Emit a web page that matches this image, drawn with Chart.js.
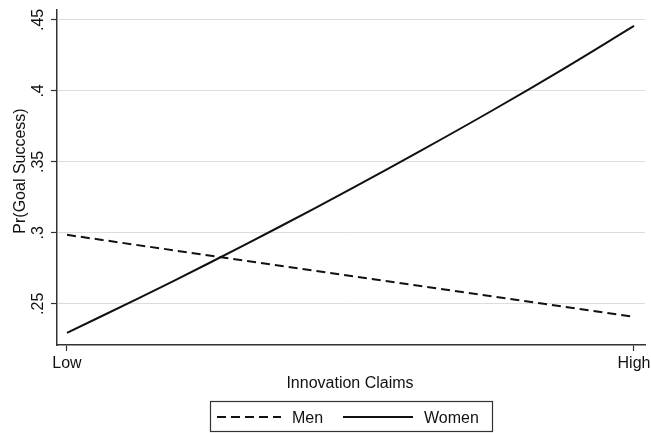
<!DOCTYPE html>
<html>
<head>
<meta charset="utf-8">
<script src="https://cdn.jsdelivr.net/npm/chart.js@4.4.1/dist/chart.umd.min.js"></script>
<style>
  html, body { margin: 0; padding: 0; background: #fff; }
  canvas { display: block; }
</style>
</head>
<body>
<canvas id="chart" width="651" height="433"></canvas>
<script>
// values
var levels = ['Low', 'High'];
var levelAt = [0, 1];
var yTicks = [0.25, 0.30, 0.35, 0.40, 0.45];
var menAt = [0, 1];
var menPr = [0.2986, 0.2408];
var womenAt = [0, 0.125, 0.25, 0.375, 0.5, 0.625, 0.75, 0.875, 1];
var womenPr = [0.2296, 0.2537, 0.2786, 0.3043, 0.3308, 0.3581, 0.3862, 0.4154, 0.4458];

var FONT = '"Liberation Sans", Arial, Helvetica, sans-serif';
var INK = '#111';

function pts(xs, ys) {
    return xs.map(function(x, i) { return { x: x, y: ys[i] }; });
}

function yLabel(v) {
    return v.toFixed(2).replace(/0$/, '').replace(/^0/, '');
}

// rotated y tick labels, axis titles and the boxed legend
var extras = {
    id: 'extras',
    afterDraw: function(chart) {
        var ctx = chart.ctx;
        var ys = chart.scales.y;
        var area = chart.chartArea;
        ctx.save();
        ctx.fillStyle = INK;
        ctx.font = '16px ' + FONT;

        ys.ticks.forEach(function(t) {
            var py = ys.getPixelForValue(t.value);
            ctx.save();
            ctx.translate(43, py);
            ctx.rotate(-Math.PI / 2);
            ctx.textAlign = 'center';
            ctx.textBaseline = 'alphabetic';
            ctx.fillText(yLabel(t.value), 0, 0);
            ctx.restore();
        });

        ctx.save();
        ctx.translate(25, 171);
        ctx.rotate(-Math.PI / 2);
        ctx.textAlign = 'center';
        ctx.textBaseline = 'alphabetic';
        ctx.fillText('Pr(Goal Success)', 0, 0);
        ctx.restore();

        ctx.textAlign = 'center';
        ctx.textBaseline = 'alphabetic';
        ctx.fillText('Innovation Claims', (area.left + area.right) / 2 - 1, 388);

        // legend
        ctx.strokeStyle = '#333';
        ctx.lineWidth = 1.2;
        ctx.strokeRect(210.5, 401.5, 282, 30);

        var ds = chart.data.datasets;
        ctx.lineWidth = 2;
        ctx.strokeStyle = INK;
        ctx.setLineDash(ds[0].borderDash);
        ctx.beginPath();
        ctx.moveTo(217, 417);
        ctx.lineTo(281, 417);
        ctx.stroke();
        ctx.setLineDash([]);
        ctx.beginPath();
        ctx.moveTo(343, 417);
        ctx.lineTo(413, 417);
        ctx.stroke();

        ctx.textAlign = 'left';
        ctx.fillText(ds[0].label, 292, 423);
        ctx.fillText(ds[1].label, 424, 423);
        ctx.restore();
    }
};

new Chart(document.getElementById('chart').getContext('2d'), {
    type: 'line',
    data: {
        datasets: [{
            label: 'Men',
            data: pts(menAt, menPr),
            borderColor: INK,
            borderWidth: 2,
            borderDash: [9, 5],
            pointRadius: 0,
            fill: false
        }, {
            label: 'Women',
            data: pts(womenAt, womenPr),
            borderColor: INK,
            borderWidth: 2,
            pointRadius: 0,
            tension: 0.4,
            fill: false
        }]
    },
    options: {
        responsive: false,
        animation: false,
        devicePixelRatio: 1,
        layout: { padding: { top: 10, right: 6, bottom: 0, left: 0 } },
        plugins: {
            legend: { display: false },
            title: { display: false },
            tooltip: { enabled: false }
        },
        scales: {
            x: {
                type: 'linear',
                min: -0.0176,
                max: 1.0194,
                afterBuildTicks: function(s) {
                    s.ticks = levelAt.map(function(v) { return { value: v }; });
                },
                afterFit: function(s) {
                    s.height = 88;
                    s.paddingLeft = 0;
                    s.paddingRight = 0;
                },
                ticks: {
                    autoSkip: false,
                    maxRotation: 0,
                    padding: 3,
                    color: INK,
                    font: { family: FONT, size: 16 },
                    callback: function(v) { return levels[levelAt.indexOf(v)]; }
                },
                grid: {
                    drawOnChartArea: false,
                    drawTicks: true,
                    tickLength: 6,
                    tickColor: '#333',
                    tickWidth: 1.2
                },
                border: { color: '#333', width: 1.5 }
            },
            y: {
                type: 'linear',
                min: 0.221,
                max: 0.457,
                afterBuildTicks: function(s) {
                    s.ticks = yTicks.map(function(v) { return { value: v }; });
                },
                afterFit: function(s) {
                    s.width = 57;
                    s.paddingTop = 0;
                    s.paddingBottom = 0;
                },
                ticks: { display: false },
                grid: {
                    color: '#dcdcdc',
                    lineWidth: 1,
                    drawTicks: true,
                    tickLength: 6,
                    tickColor: '#333',
                    tickWidth: 1.2
                },
                border: { color: '#333', width: 1.5 }
            }
        }
    },
    plugins: [extras]
});
</script>
</body>
</html>
